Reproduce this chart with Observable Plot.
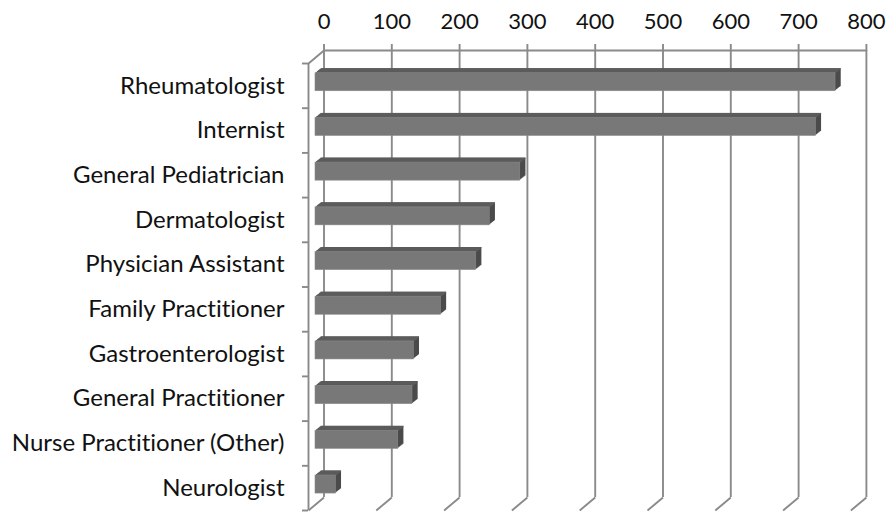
<!DOCTYPE html>
<html><head><meta charset="utf-8">
<script src="https://cdn.jsdelivr.net/npm/d3@7"></script>
<script src="https://cdn.jsdelivr.net/npm/@observablehq/plot@0.6"></script>
<style>body{margin:0;background:#fff} svg text{font-variant-ligatures:none;font-feature-settings:"liga" 0,"clig" 0;}</style>
</head><body><div id="chart"></div>
<script>
// ---- data ----
const specialties = ["Rheumatologist","Internist","General Pediatrician","Dermatologist","Physician Assistant","Family Practitioner","Gastroenterologist","General Practitioner","Nurse Practitioner (Other)","Neurologist"];
const counts = [767, 738, 302, 257, 237, 185, 145, 143, 122, 30];
const xTicks = [0,100,200,300,400,500,600,700,800];

// ---- layout ----
const W = 888, H = 513;
const mL = 308, mR = 37.6, mT = 63, mB = 3;
const xMax = 800;
const pxX = (W - mL - mR) / xMax;
const pxY = (H - mT - mB) / specialties.length;
const wallDX = 15.5, wallDY = 13;     // depth of the back wall (px)
const barDX = 7, barDY = -3.6;         // bar front face offset (px)
const steps = 6, sx = 0.95, sy = 0.75; // bar extrusion
const barH = 18;
const inset = (pxY - barH) / 2;
const gridColor = "#8a8a8a";
const gw = 1.9;

const rows = specialties.map((name, i) => ({name, value: counts[i], i}));
const bandTicks = d3.range(specialties.length + 1);
const labelTicks = d3.range(specialties.length).map(i => i + 0.5);

const marks = [];
// back wall vertical gridlines
marks.push(Plot.ruleX(xTicks, {x: d => d, dx: wallDX, dy: -wallDY, stroke: gridColor, strokeWidth: gw}));
// back wall top edge
marks.push(Plot.ruleY([0], {y: d => d, dx: wallDX, dy: -wallDY, stroke: gridColor, strokeWidth: gw}));
// floor diagonals
marks.push(Plot.link(xTicks, {x1: d => d, y1: specialties.length, x2: d => d + wallDX / pxX, y2: specialties.length - wallDY / pxY, stroke: gridColor, strokeWidth: gw}));
// top-left diagonal
marks.push(Plot.link([0], {x1: 0, y1: 0, x2: wallDX / pxX, y2: -wallDY / pxY, stroke: gridColor, strokeWidth: gw}));
// front left axis line
marks.push(Plot.ruleX([0], {x: d => d, stroke: gridColor, strokeWidth: gw}));
// left axis ticks
marks.push(Plot.axisY(bandTicks, {anchor: "left", label: null, tickSize: 6, tickFormat: () => "", stroke: gridColor, strokeWidth: gw}));
// category labels
marks.push(Plot.axisY(labelTicks, {anchor: "left", label: null, tickSize: 0, tickPadding: 24, fontSize: 24, tickFormat: d => specialties[Math.round(d - 0.5)], fill: "#111"}));
// top axis
marks.push(Plot.axisX(xTicks, {anchor: "top", label: null, tickSize: 7, tickPadding: 15, fontSize: 22, dx: wallDX, dy: -wallDY, stroke: gridColor, strokeWidth: gw, fill: "#111", tickFormat: d => String(d)}));

// bars: side/extrusion layers
for (let k = steps; k >= 1; k--) {
  marks.push(Plot.rectX(rows, {x1: 0, x2: "value", y1: "i", y2: d => d.i + 1, insetTop: inset, insetBottom: inset,
    dx: barDX + k * sx, dy: barDY - k * sy, fill: "#4b4b4b"}));
}
// top face strips
for (let k = steps; k >= 1; k--) {
  marks.push(Plot.rectX(rows, {x1: 0, x2: "value", y1: "i", y2: d => d.i + 1, insetTop: inset, insetBottom: inset + barH - (sy + 0.6),
    dx: barDX + k * sx, dy: barDY - k * sy, fill: "#5c5c5c"}));
}
// front face
marks.push(Plot.rectX(rows, {x1: 0, x2: "value", y1: "i", y2: d => d.i + 1, insetTop: inset, insetBottom: inset,
  dx: barDX, dy: barDY, fill: "#787878", stroke: "#8a8a8a", strokeWidth: 0.6}));

const chart = Plot.plot({
  width: W, height: H,
  marginLeft: mL, marginRight: mR, marginTop: mT, marginBottom: mB,
  x: {domain: [0, xMax], axis: null},
  y: {domain: [0, specialties.length], reverse: true, axis: null},
  style: {fontFamily: "Lato, sans-serif", fontSize: "22px", color: "#000", background: "#fff"},
  marks
});
document.getElementById("chart").appendChild(chart);
</script>
</body></html>
